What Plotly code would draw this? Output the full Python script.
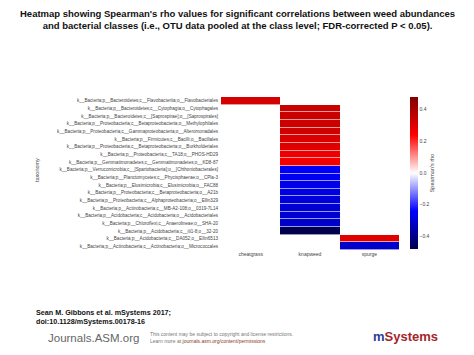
import plotly.graph_objects as go

taxa = [
    "k__Bacteria;p__Bacteroidetes;c__Flavobacteriia;o__Flavobacteriales",
    "k__Bacteria;p__Bacteroidetes;c__Cytophagia;o__Cytophagales",
    "k__Bacteria;p__Bacteroidetes;c__[Saprospirae];o__[Saprospirales]",
    "k__Bacteria;p__Proteobacteria;c__Betaproteobacteria;o__Methylophilales",
    "k__Bacteria;p__Proteobacteria;c__Gammaproteobacteria;o__Alteromonadales",
    "k__Bacteria;p__Firmicutes;c__Bacilli;o__Bacillales",
    "k__Bacteria;p__Proteobacteria;c__Betaproteobacteria;o__Burkholderiales",
    "k__Bacteria;p__Proteobacteria;c__TA18;o__PHOS-HD29",
    "k__Bacteria;p__Gemmatimonadetes;c__Gemmatimonadetes;o__KD8-87",
    "k__Bacteria;p__Verrucomicrobia;c__[Spartobacteria];o__[Chthoniobacterales]",
    "k__Bacteria;p__Planctomycetes;c__Phycisphaerae;o__CPla-3",
    "k__Bacteria;p__Elusimicrobia;c__Elusimicrobia;o__FAC88",
    "k__Bacteria;p__Proteobacteria;c__Betaproteobacteria;o__A21b",
    "k__Bacteria;p__Proteobacteria;c__Alphaproteobacteria;o__Ellin329",
    "k__Bacteria;p__Actinobacteria;c__MB-A2-108;o__0319-7L14",
    "k__Bacteria;p__Acidobacteria;c__Acidobacteria;o__Acidobacteriales",
    "k__Bacteria;p__Chloroflexi;c__Anaerolineae;o__SHA-20",
    "k__Bacteria;p__Acidobacteria;c__iii1-8;o__32-20",
    "k__Bacteria;p__Acidobacteria;c__DA052;o__Ellin6513",
    "k__Bacteria;p__Actinobacteria;c__Actinobacteria;o__Micrococcales",
]
weeds = ["cheatgrass", "knapweed", "spurge"]

cheatgrass = [0.32, None, None, None, None, None, None, None, None, None,
              None, None, None, None, None, None, None, None, None, None]
knapweed = [None, 0.345, 0.34, 0.335, 0.33, 0.31, 0.30, 0.27, 0.26, -0.25,
            -0.26, -0.27, -0.28, -0.29, -0.30, -0.30, -0.31, -0.48, None, None]
spurge = [None, None, None, None, None, None, None, None, None, None,
          None, None, None, None, None, None, None, None, 0.30, -0.31]

z = [[cheatgrass[i], knapweed[i], spurge[i]] for i in range(len(taxa))]

seismic = [
    [0.0, "rgb(0,0,77)"],
    [0.25, "rgb(0,0,255)"],
    [0.5, "rgb(255,255,255)"],
    [0.75, "rgb(255,0,0)"],
    [1.0, "rgb(128,0,0)"],
]

W, H = 474, 355
L, R, T, B = 221, 399, 97, 250
FONT = "Liberation Sans, Arial, sans-serif"


def px(x):
    return (x - L) / (R - L)


def py(y):
    return (B - y) / (B - T)


fig = go.Figure(go.Heatmap(
    z=z, x=weeds, y=taxa,
    colorscale=seismic, zmin=-0.48, zmax=0.48,
    ygap=0.6, hoverongaps=False,
    colorbar=dict(
        x=px(410), xanchor="left", xpad=0, ypad=0,
        y=py(173), yanchor="middle",
        lenmode="pixels", len=152, thickness=8,
        outlinewidth=0,
        tickvals=[-0.4, -0.2, 0.0, 0.2, 0.4],
        ticktext=["\u22120.4", "\u22120.2", "0.0", "0.2", "0.4"],
        ticks="", tickfont=dict(size=5, color="#444", family=FONT),
        title=dict(text="Spearman's rho", side="right",
                   font=dict(size=5.5, color="#444", family=FONT)),
    ),
))

annotations = [
    dict(text="<b>Heatmap showing Spearman's rho values for significant correlations between weed abundances<br>"
              "and bacterial classes (i.e., OTU data pooled at the class level; FDR-corrected P &lt; 0.05).</b>",
         x=px(237), y=py(19), xanchor="center", yanchor="middle",
         font=dict(size=9.5, color="#111", family=FONT)),
    dict(text="taxonomy", x=px(37), y=py(170), textangle=-90,
         xanchor="center", yanchor="middle",
         font=dict(size=5.5, color="#444", family=FONT)),
    dict(text="<b>Sean M. Gibbons et al. mSystems 2017;<br>doi:10.1128/mSystems.00178-16</b>",
         x=px(34), y=py(317), xanchor="left", yanchor="middle", align="left",
         font=dict(size=7.2, color="#111", family=FONT)),
    dict(text="Journals.ASM.org",
         x=px(46), y=py(338), xanchor="left", yanchor="middle",
         font=dict(size=11.5, color="#666", family=FONT)),
    dict(text="This content may be subject to copyright and license restrictions.<br>"
              "Learn more at <span style='color:#8a3a1a'>journals.asm.org/content/permissions</span>",
         x=px(148), y=py(337), xanchor="left", yanchor="middle", align="left",
         font=dict(size=5, color="#777", family=FONT)),
    dict(text="<b><span style='color:#2b3e8f'>m</span>Systems</b>",
         x=px(405), y=py(336), xanchor="center", yanchor="middle",
         font=dict(size=13, color="#a3262b", family=FONT)),
]

fig.update_layout(
    width=W, height=H,
    margin=dict(l=L, r=W - R, t=T, b=H - B, pad=0),
    paper_bgcolor="white", plot_bgcolor="white",
    font=dict(family=FONT),
    xaxis=dict(showgrid=False, zeroline=False, ticks="", showline=False, automargin=False,
               tickfont=dict(size=5, color="#444", family=FONT)),
    yaxis=dict(showgrid=False, zeroline=False, ticks="", showline=False, automargin=False,
               autorange="reversed", ticklabelstandoff=2,
               tickfont=dict(size=4.6, color="#444", family=FONT)),
    annotations=[dict(a, xref="paper", yref="paper", showarrow=False) for a in annotations],
)

fig.write_html("out.html", config={"displayModeBar": False},
               post_script="document.body.style.margin='0';")
